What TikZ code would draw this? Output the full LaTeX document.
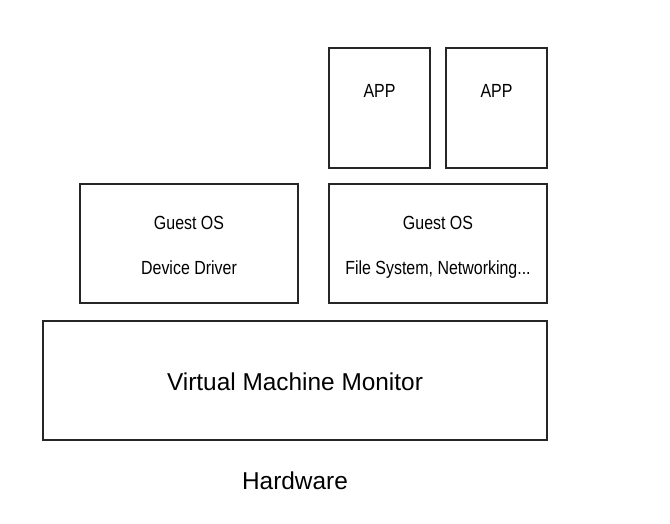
\documentclass[tikz,border=0pt]{standalone}
\usepackage{fontspec}
\setmainfont{Liberation Sans}
\newfontfamily\condfont[FakeStretch=0.84]{Liberation Sans}
\begin{document}
\begin{tikzpicture}[x=1pt,y=-1pt,
  box/.style={draw=black!85,line width=1.7pt,fill=white,inner sep=0pt},
  small/.style={font=\condfont\fontsize{19}{21}\selectfont,anchor=base,inner sep=0pt},
  big/.style={font=\fontsize{24.4}{26}\selectfont,anchor=base,inner sep=0pt}]
\useasboundingbox (0,0) rectangle (670,523);
% boxes
\node[box,minimum width=101pt,minimum height=120pt] (app1) at (379.5,108) {};
\node[box,minimum width=101pt,minimum height=120pt] (app2) at (496.5,108) {};
\node[box,minimum width=218pt,minimum height=119pt] (gos1) at (189,243.5) {};
\node[box,minimum width=218pt,minimum height=119pt] (gos2) at (438,243.5) {};
\node[box,minimum width=504pt,minimum height=119pt] (vmm) at (295,380.5) {};
% labels
\node[small] (t1) at (379.5,97) {APP};
\node[small] (t2) at (496.5,97) {APP};
\node[small] (t3) at (189,229) {Guest OS};
\node[small] (t4) at (189,274) {Device Driver};
\node[small] (t5) at (438,229) {Guest OS};
\node[small] (t6) at (438,274) {File System, Networking...};
\node[big] (t7) at (295,390) {Virtual Machine Monitor};
\node[big] (hw) at (295,489) {Hardware};
\end{tikzpicture}
\end{document}
